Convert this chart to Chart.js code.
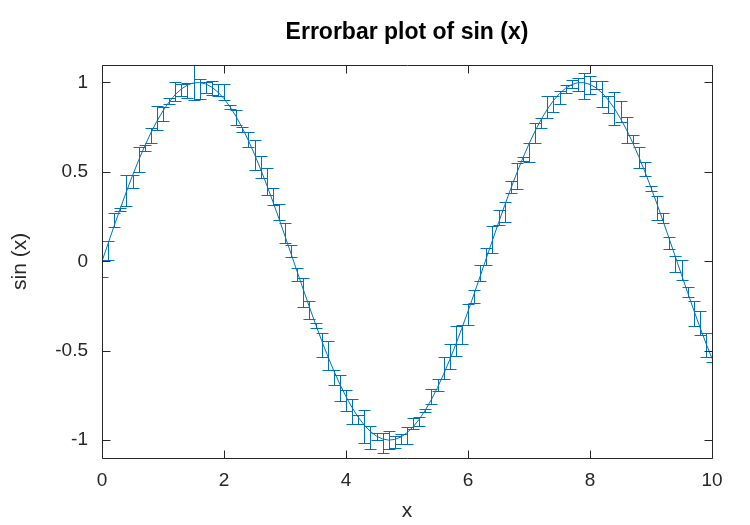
<!DOCTYPE html>
<html><head><meta charset="utf-8">
<script src="https://cdn.jsdelivr.net/npm/chart.js@4.4.0/dist/chart.umd.min.js"></script>
<style>html,body{margin:0;padding:0;background:#fff;}#wrap{width:750px;height:525px;}</style>
</head><body><div id="wrap"><canvas id="c" width="750" height="525"></canvas></div>
<script>
const xValues = [0,0.1,0.2,0.3,0.4,0.5,0.6,0.7,0.8,0.9,1,1.1,1.2,1.3,1.4,1.5,1.6,1.7,1.8,1.9,2,2.1,2.2,2.3,2.4,2.5,2.6,2.7,2.8,2.9,3,3.1,3.2,3.3,3.4,3.5,3.6,3.7,3.8,3.9,4,4.1,4.2,4.3,4.4,4.5,4.6,4.7,4.8,4.9,5,5.1,5.2,5.3,5.4,5.5,5.6,5.7,5.8,5.9,6,6.1,6.2,6.3,6.4,6.5,6.6,6.7,6.8,6.9,7,7.1,7.2,7.3,7.4,7.5,7.6,7.7,7.8,7.9,8,8.1,8.2,8.3,8.4,8.5,8.6,8.7,8.8,8.9,9,9.1,9.2,9.3,9.4,9.5,9.6,9.7,9.8,9.9,10];
const sinValues = [0,0.0998,0.1987,0.2955,0.3894,0.4794,0.5646,0.6442,0.7174,0.7833,0.8415,0.8912,0.9320,0.9636,0.9854,0.9975,0.9996,0.9917,0.9738,0.9463,0.9093,0.8632,0.8085,0.7457,0.6755,0.5985,0.5155,0.4274,0.3350,0.2392,0.1411,0.0416,-0.0584,-0.1577,-0.2555,-0.3508,-0.4425,-0.5298,-0.6119,-0.6878,-0.7568,-0.8183,-0.8716,-0.9162,-0.9516,-0.9775,-0.9937,-0.9999,-0.9962,-0.9825,-0.9589,-0.9258,-0.8835,-0.8323,-0.7728,-0.7055,-0.6313,-0.5507,-0.4646,-0.3739,-0.2794,-0.1822,-0.0831,0.0168,0.1165,0.2151,0.3115,0.4048,0.4941,0.5784,0.6570,0.7290,0.7937,0.8504,0.8987,0.9380,0.9679,0.9882,0.9985,0.9989,0.9894,0.9699,0.9407,0.9022,0.8546,0.7985,0.7344,0.6630,0.5849,0.5010,0.4121,0.3191,0.2229,0.1245,0.0248,-0.0752,-0.1743,-0.2718,-0.3665,-0.4575,-0.5440];
const upperErr = [0.01,0.015,0.07,0.005,0.095,0.006,0.073,0.006,0.026,0.086,0.02,0.02,0.07,0.026,0.01,0.1,0.02,0.011,0.036,0.045,0.08,0.01,0.037,0.006,0.047,0.08,0.071,0.094,0.073,0.084,0.071,0.049,0.022,0.066,0.032,0.006,0.043,0.084,0.004,0.05,0.036,0.047,0.013,0.086,0.028,0.019,0.036,0.053,0.02,0.017,0.032,0.05,0.015,0.005,0.06,0.049,0.094,0.086,0.1,0.02,0.043,0.022,0.062,0.06,0.079,0.07,0.022,0.043,0.054,0.004,0.004,0.045,0.009,0.075,0.026,0.015,0.019,0.024,0.026,0.056,0.049,0.04,0.07,0.02,0.09,0.1,0.073,0.043,0.054,0.056,0.009,0.045,0.05,0.013,0.007,0.08,0.032,0.05,0.088,0.058,0.04];
const lowerErr = [0.09,0.095,0.005,0.015,0.082,0.07,0.067,0.028,0.054,0.05,0.056,0.01,0.035,0.04,0.07,0.097,0.094,0.049,0.045,0.02,0.01,0.01,0.047,0.022,0.037,0.086,0.052,0.058,0.022,0.006,0.036,0.015,0.054,0.1,0.067,0.024,0.09,0.077,0.08,0.094,0.08,0.09,0.037,0.1,0.1,0.022,0.08,0.047,0.047,0.04,0.064,0.01,0.04,0.01,0.026,0.02,0.026,0.05,0.067,0.088,0.077,0.05,0.026,0.036,0.071,0.01,0.09,0.024,0.092,0.02,0.1,0.067,0.047,0.047,0.064,0.056,0.024,0.017,0.045,0.09,0.054,0.005,0.077,0.073,0.09,0.017,0.073,0.002,0.064,0.026,0.02,0.09,0.011,0.054,0.086,0.028,0.024,0.09,0.047,0.079,0.02];
const xTickValues = [0,2,4,6,8,10];
const xTickLabels = ['0','2','4','6','8','10'];
const yTickValues = [-1,-0.5,0,0.5,1];
const yTickLabels = ['-1','-0.5','0','0.5','1'];

const LINE = '#0072BD';
const AX = '#262626';
const FONT = "'Liberation Sans', Arial, sans-serif";

const points = xValues.map((x, i) => ({x: x, y: sinValues[i]}));

const errorBarPlugin = {
  id: 'errorBars',
  afterDatasetsDraw(chart) {
    const {ctx, chartArea: a, scales: {x: xs, y: ys}} = chart;
    ctx.save();
    ctx.beginPath();
    ctx.rect(a.left, a.top, a.right - a.left, a.bottom - a.top);
    ctx.clip();
    ctx.strokeStyle = LINE;
    ctx.lineWidth = 1;
    const cap = 6;
    for (let i = 0; i < xValues.length; i++) {
      const px = Math.round(xs.getPixelForValue(xValues[i])) + 0.5;
      const yt = Math.round(ys.getPixelForValue(sinValues[i] + upperErr[i])) + 0.5;
      const yb = Math.round(ys.getPixelForValue(sinValues[i] - lowerErr[i])) + 0.5;
      ctx.beginPath();
      ctx.moveTo(px, yt); ctx.lineTo(px, yb);
      ctx.moveTo(px - cap, yt); ctx.lineTo(px + cap, yt);
      ctx.moveTo(px - cap, yb); ctx.lineTo(px + cap, yb);
      ctx.stroke();
    }
    ctx.restore();
  }
};

const boxPlugin = {
  id: 'box',
  afterDraw(chart) {
    const {ctx, chartArea: a, scales: {x: xs, y: ys}} = chart;
    ctx.save();
    ctx.strokeStyle = AX;
    ctx.lineWidth = 1;
    const L = Math.round(a.left) + 0.5, R = Math.round(a.right) + 0.5;
    const T = Math.round(a.top) + 0.5, B = Math.round(a.bottom) + 0.5;
    ctx.beginPath();
    ctx.rect(L, T, R - L, B - T);
    const tl = 8;
    xTickValues.forEach(v => {
      const p = Math.round(xs.getPixelForValue(v)) + 0.5;
      ctx.moveTo(p, B); ctx.lineTo(p, B - tl);
      ctx.moveTo(p, T); ctx.lineTo(p, T + tl);
    });
    yTickValues.forEach(v => {
      const p = Math.round(ys.getPixelForValue(v)) + 0.5;
      ctx.moveTo(L, p); ctx.lineTo(L + tl, p);
      ctx.moveTo(R, p); ctx.lineTo(R - tl, p);
    });
    ctx.stroke();
    ctx.restore();
  }
};

new Chart(document.getElementById('c'), {
  type: 'scatter',
  data: {
    datasets: [{
      data: points,
      showLine: true,
      borderColor: LINE,
      borderWidth: 1,
      pointRadius: 0,
      pointHoverRadius: 0,
      tension: 0,
      clip: 0
    }]
  },
  options: {
    responsive: false,
    animation: false,
    devicePixelRatio: 1,
    layout: {padding: {left: 0, right: 38, top: 0, bottom: 0}},
    plugins: {
      legend: {display: false},
      tooltip: {enabled: false},
      title: {
        display: true,
        text: 'Errorbar plot of sin (x)',
        fullSize: false,
        color: '#000',
        font: {family: FONT, size: 23, weight: 'bold'},
        padding: {top: 19, bottom: 18}
      }
    },
    scales: {
      x: {
        type: 'linear', min: 0, max: 10,
        afterBuildTicks: s => { s.ticks = xTickValues.map(v => ({value: v})); },
        afterFit: s => { s.height = 67; },
        grid: {display: false, drawTicks: false},
        border: {display: false},
        ticks: {
          color: AX, padding: 11, maxRotation: 0, autoSkip: false,
          font: {family: FONT, size: 19},
          callback: (v) => xTickLabels[xTickValues.indexOf(v)]
        },
        title: {display: true, text: 'x', color: AX, font: {family: FONT, size: 21}, padding: {top: 0, bottom: 1}}
      },
      y: {
        type: 'linear', min: -1.1, max: 1.1,
        afterBuildTicks: s => { s.ticks = yTickValues.map(v => ({value: v})); },
        afterFit: s => { s.width = 102; },
        grid: {display: false, drawTicks: false},
        border: {display: false},
        ticks: {
          color: AX, padding: 14, autoSkip: false,
          font: {family: FONT, size: 19},
          callback: (v) => yTickLabels[yTickValues.indexOf(v)]
        },
        title: {display: true, text: 'sin (x)', color: AX, font: {family: FONT, size: 21}, padding: {top: 8, bottom: 0}}
      }
    }
  },
  plugins: [errorBarPlugin, boxPlugin]
});
</script></body></html>
